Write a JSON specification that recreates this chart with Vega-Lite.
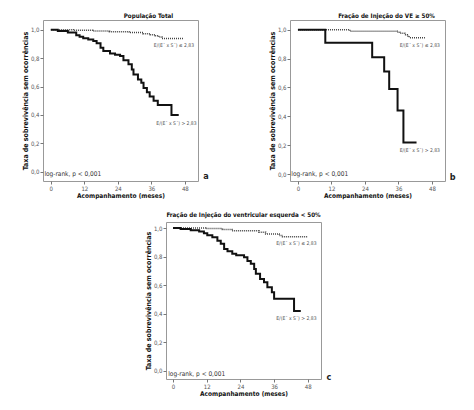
{
  "$schema": "https://vega.github.io/schema/vega-lite/v6.json",
  "padding": {"left": 20, "top": 12, "right": 0, "bottom": 0},
  "datasets": {
    "a": [
      {"g": "lo", "t": 0, "s": 1.0}, {"g": "lo", "t": 8, "s": 0.995}, {"g": "lo", "t": 15, "s": 0.99}, {"g": "lo", "t": 21, "s": 0.986}, {"g": "lo", "t": 28, "s": 0.98}, {"g": "lo", "t": 33, "s": 0.972}, {"g": "lo", "t": 35.6, "s": 0.965}, {"g": "lo", "t": 37.4, "s": 0.958}, {"g": "lo", "t": 38.6, "s": 0.948}, {"g": "lo", "t": 39.8, "s": 0.938}, {"g": "lo", "t": 47.7, "s": 0.938},
      {"g": "hi", "t": 0, "s": 1.0}, {"g": "hi", "t": 2.5, "s": 0.99}, {"g": "hi", "t": 6.1, "s": 0.98}, {"g": "hi", "t": 9.1, "s": 0.96}, {"g": "hi", "t": 10.3, "s": 0.95}, {"g": "hi", "t": 11.6, "s": 0.94}, {"g": "hi", "t": 13.4, "s": 0.93}, {"g": "hi", "t": 15.2, "s": 0.92}, {"g": "hi", "t": 16.4, "s": 0.905}, {"g": "hi", "t": 17.8, "s": 0.873}, {"g": "hi", "t": 18.8, "s": 0.85}, {"g": "hi", "t": 21.2, "s": 0.833}, {"g": "hi", "t": 23, "s": 0.824}, {"g": "hi", "t": 24.8, "s": 0.815}, {"g": "hi", "t": 26, "s": 0.784}, {"g": "hi", "t": 27.8, "s": 0.756}, {"g": "hi", "t": 29, "s": 0.72}, {"g": "hi", "t": 29.6, "s": 0.685}, {"g": "hi", "t": 31.2, "s": 0.65}, {"g": "hi", "t": 32.4, "s": 0.627}, {"g": "hi", "t": 33.2, "s": 0.59}, {"g": "hi", "t": 34.4, "s": 0.56}, {"g": "hi", "t": 35.4, "s": 0.53}, {"g": "hi", "t": 36.8, "s": 0.5}, {"g": "hi", "t": 38.3, "s": 0.47}, {"g": "hi", "t": 43.2, "s": 0.4}, {"g": "hi", "t": 45.8, "s": 0.4}
    ],
    "b": [
      {"g": "lo", "t": 0, "s": 1.0}, {"g": "lo", "t": 18.6, "s": 0.99}, {"g": "lo", "t": 35.6, "s": 0.983}, {"g": "lo", "t": 36.5, "s": 0.975}, {"g": "lo", "t": 38.3, "s": 0.965}, {"g": "lo", "t": 39.2, "s": 0.955}, {"g": "lo", "t": 39.9, "s": 0.945}, {"g": "lo", "t": 45.5, "s": 0.945},
      {"g": "hi", "t": 0, "s": 1.0}, {"g": "hi", "t": 9.8, "s": 0.91}, {"g": "hi", "t": 26.6, "s": 0.81}, {"g": "hi", "t": 30.9, "s": 0.71}, {"g": "hi", "t": 32.7, "s": 0.59}, {"g": "hi", "t": 35.7, "s": 0.44}, {"g": "hi", "t": 37.8, "s": 0.22}, {"g": "hi", "t": 42.5, "s": 0.22}
    ],
    "c": [
      {"g": "lo", "t": 0, "s": 1.0}, {"g": "lo", "t": 11.6, "s": 0.996}, {"g": "lo", "t": 17.6, "s": 0.99}, {"g": "lo", "t": 21, "s": 0.98}, {"g": "lo", "t": 30.6, "s": 0.97}, {"g": "lo", "t": 33, "s": 0.958}, {"g": "lo", "t": 37.8, "s": 0.947}, {"g": "lo", "t": 39, "s": 0.938}, {"g": "lo", "t": 47.8, "s": 0.936},
      {"g": "hi", "t": 0, "s": 1.0}, {"g": "hi", "t": 2.7, "s": 0.993}, {"g": "hi", "t": 6.3, "s": 0.985}, {"g": "hi", "t": 9.3, "s": 0.975}, {"g": "hi", "t": 11, "s": 0.963}, {"g": "hi", "t": 12.2, "s": 0.95}, {"g": "hi", "t": 14, "s": 0.935}, {"g": "hi", "t": 15.8, "s": 0.91}, {"g": "hi", "t": 17, "s": 0.89}, {"g": "hi", "t": 18.2, "s": 0.853}, {"g": "hi", "t": 19.4, "s": 0.837}, {"g": "hi", "t": 21.1, "s": 0.82}, {"g": "hi", "t": 22.5, "s": 0.81}, {"g": "hi", "t": 25.3, "s": 0.795}, {"g": "hi", "t": 26.5, "s": 0.77}, {"g": "hi", "t": 27.7, "s": 0.75}, {"g": "hi", "t": 28.9, "s": 0.714}, {"g": "hi", "t": 29.5, "s": 0.68}, {"g": "hi", "t": 31, "s": 0.644}, {"g": "hi", "t": 32.4, "s": 0.62}, {"g": "hi", "t": 33.6, "s": 0.586}, {"g": "hi", "t": 35.2, "s": 0.55}, {"g": "hi", "t": 36, "s": 0.505}, {"g": "hi", "t": 43.1, "s": 0.42}, {"g": "hi", "t": 45.5, "s": 0.42}
    ],
    "na": [
      {"kind": "grp", "label": "E/(E´ x S´) ≤ 2,83", "t": 51.3, "s": 0.892},
      {"kind": "grp", "label": "E/(E´ x S´) > 2,83", "t": 52.2, "s": 0.34},
      {"kind": "test", "label": "log-rank, p < 0,001", "t": -2.3, "s": -0.014},
      {"kind": "panel", "label": "a", "t": 55.6, "s": -0.03}
    ],
    "nb": [
      {"kind": "grp", "label": "E/(E´ x S´) ≤ 2,83", "t": 50.9, "s": 0.896},
      {"kind": "grp", "label": "E/(E´ x S´) > 2,83", "t": 50.9, "s": 0.168},
      {"kind": "test", "label": "log-rank, p < 0,001", "t": -2.4, "s": 0.0},
      {"kind": "panel", "label": "b", "t": 55.4, "s": -0.02}
    ],
    "nc": [
      {"kind": "grp", "label": "E/(E´ x S´) ≤ 2,83", "t": 51.1, "s": 0.895},
      {"kind": "grp", "label": "E/(E´ x S´) > 2,83", "t": 51.1, "s": 0.368},
      {"kind": "test", "label": "log-rank, p < 0,001", "t": -1.7, "s": -0.02},
      {"kind": "panel", "label": "c", "t": 55.5, "s": -0.04}
    ]
  },
  "config": {
    "font": "DejaVu Sans Condensed",
    "view": {"stroke": "#999999", "strokeWidth": 1},
    "axis": {"grid": false, "domain": false, "tickColor": "#777777", "tickSize": 3, "labelColor": "#555555", "labelFontSize": 6, "labelPadding": 1, "titleFontSize": 6.5, "titleFontWeight": "bold", "titleColor": "#111111", "titlePadding": 2},
    "axisX": {"titlePadding": 1},
    "axisY": {"titleFontSize": 7},
    "title": {"fontSize": 6.2, "fontWeight": "bold", "color": "#111111", "offset": 1}
  },
  "spacing": 12,
  "vconcat": [
    {
      "spacing": 92,
      "bounds": "flush",
      "hconcat": [
        {
          "width": 155, "height": 161,
          "title": {"text": "População Total", "dx": 28, "color": "#111111"},
          "data": {"name": "a"},
          "encoding": {
            "x": {"field": "t", "type": "quantitative", "scale": {"domain": [-2.8, 52.7], "nice": false, "zero": false}, "axis": {"values": [0, 12, 24, 36, 48], "title": "Acompanhamento (meses)"}},
            "y": {"field": "s", "type": "quantitative", "scale": {"domain": [-0.065, 1.068], "nice": false, "zero": false}, "axis": {"values": [0, 0.2, 0.4, 0.6, 0.8, 1], "labelExpr": "replace(format(datum.value, '.1f'), '.', ',')", "title": "Taxa de sobrevivência sem ocorrências"}}
          },
          "layer": [
            {"transform": [{"filter": "datum.g == 'lo'"}], "mark": {"type": "line", "interpolate": "step-after", "color": "#444444", "strokeWidth": 1.5, "strokeDash": [1, 1]}},
            {"transform": [{"filter": "datum.g == 'hi'"}], "mark": {"type": "line", "interpolate": "step-after", "color": "#111111", "strokeWidth": 2}},
            {"data": {"name": "na"}, "transform": [{"filter": "datum.kind == 'grp'"}], "mark": {"type": "text", "align": "right", "baseline": "middle", "fontSize": 5, "color": "#555555"}, "encoding": {"text": {"field": "label"}}},
            {"data": {"name": "na"}, "transform": [{"filter": "datum.kind == 'test'"}], "mark": {"type": "text", "align": "left", "baseline": "middle", "fontSize": 6.5, "color": "#333333"}, "encoding": {"text": {"field": "label"}}},
            {"data": {"name": "na"}, "transform": [{"filter": "datum.kind == 'panel'"}], "mark": {"type": "text", "align": "center", "baseline": "middle", "fontSize": 9, "fontWeight": "bold", "color": "#222222"}, "encoding": {"text": {"field": "label"}}}
          ]
        },
        {
          "width": 155, "height": 161,
          "title": {"text": "Fração de Injeção do VE ≥ 50%", "dx": 19, "color": "#111111"},
          "data": {"name": "b"},
          "encoding": {
            "x": {"field": "t", "type": "quantitative", "scale": {"domain": [-2.85, 52.7], "nice": false, "zero": false}, "axis": {"values": [0, 12, 24, 36, 48], "title": "Acompanhamento (meses)"}},
            "y": {"field": "s", "type": "quantitative", "scale": {"domain": [-0.047, 1.067], "nice": false, "zero": false}, "axis": {"values": [0, 0.2, 0.4, 0.6, 0.8, 1], "labelExpr": "replace(format(datum.value, '.1f'), '.', ',')", "title": "Taxa de sobrevivência sem ocorrências"}}
          },
          "layer": [
            {"transform": [{"filter": "datum.g == 'lo'"}], "mark": {"type": "line", "interpolate": "step-after", "color": "#444444", "strokeWidth": 1.5, "strokeDash": [1, 1]}},
            {"transform": [{"filter": "datum.g == 'hi'"}], "mark": {"type": "line", "interpolate": "step-after", "color": "#111111", "strokeWidth": 2}},
            {"data": {"name": "nb"}, "transform": [{"filter": "datum.kind == 'grp'"}], "mark": {"type": "text", "align": "right", "baseline": "middle", "fontSize": 5, "color": "#555555"}, "encoding": {"text": {"field": "label"}}},
            {"data": {"name": "nb"}, "transform": [{"filter": "datum.kind == 'test'"}], "mark": {"type": "text", "align": "left", "baseline": "middle", "fontSize": 6.5, "color": "#333333"}, "encoding": {"text": {"field": "label"}}},
            {"data": {"name": "nb"}, "transform": [{"filter": "datum.kind == 'panel'"}], "mark": {"type": "text", "align": "center", "baseline": "middle", "fontSize": 9, "fontWeight": "bold", "color": "#222222"}, "encoding": {"text": {"field": "label"}}}
          ]
        }
      ]
    },
    {
      "spacing": 0,
      "bounds": "flush",
      "hconcat": [
        {"width": 123, "height": 1, "view": {"stroke": null}, "data": {"values": [{"k": 1}]}, "mark": {"type": "point", "opacity": 0, "size": 1}, "encoding": {}},
        {
          "width": 155, "height": 157,
          "title": {"text": "Fração de Injeção do ventricular esquerda < 50%", "offset": 4, "color": "#111111"},
          "data": {"name": "c"},
          "encoding": {
            "x": {"field": "t", "type": "quantitative", "scale": {"domain": [-2.5, 52.7], "nice": false, "zero": false}, "axis": {"values": [0, 12, 24, 36, 48], "title": "Acompanhamento (meses)"}},
            "y": {"field": "s", "type": "quantitative", "scale": {"domain": [-0.056, 1.042], "nice": false, "zero": false}, "axis": {"values": [0, 0.2, 0.4, 0.6, 0.8, 1], "labelExpr": "replace(format(datum.value, '.1f'), '.', ',')", "title": "Taxa de sobrevivência sem ocorrências"}}
          },
          "layer": [
            {"transform": [{"filter": "datum.g == 'lo'"}], "mark": {"type": "line", "interpolate": "step-after", "color": "#444444", "strokeWidth": 1.5, "strokeDash": [1, 1]}},
            {"transform": [{"filter": "datum.g == 'hi'"}], "mark": {"type": "line", "interpolate": "step-after", "color": "#111111", "strokeWidth": 2}},
            {"data": {"name": "nc"}, "transform": [{"filter": "datum.kind == 'grp'"}], "mark": {"type": "text", "align": "right", "baseline": "middle", "fontSize": 5, "color": "#555555"}, "encoding": {"text": {"field": "label"}}},
            {"data": {"name": "nc"}, "transform": [{"filter": "datum.kind == 'test'"}], "mark": {"type": "text", "align": "left", "baseline": "middle", "fontSize": 6.5, "color": "#333333"}, "encoding": {"text": {"field": "label"}}},
            {"data": {"name": "nc"}, "transform": [{"filter": "datum.kind == 'panel'"}], "mark": {"type": "text", "align": "center", "baseline": "middle", "fontSize": 9, "fontWeight": "bold", "color": "#222222"}, "encoding": {"text": {"field": "label"}}}
          ]
        }
      ]
    }
  ]
}
